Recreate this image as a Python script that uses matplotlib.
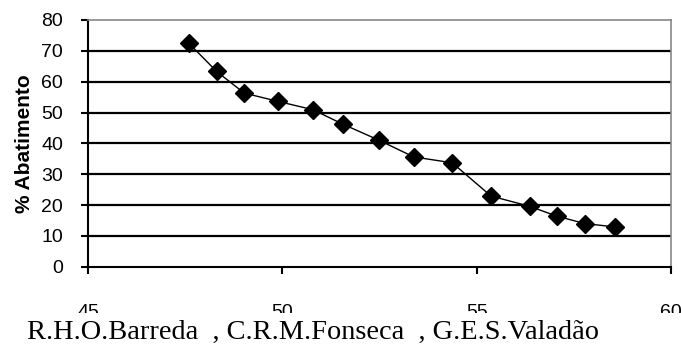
import matplotlib
matplotlib.use("Agg")
import matplotlib.pyplot as plt
from matplotlib.patches import Rectangle

x_vals = [47.6, 48.31, 49.02, 49.89, 50.79, 51.56, 52.49, 53.38, 54.37, 55.37, 56.36, 57.06, 57.78, 58.55]
y_vals = [72.4, 63.3, 56.3, 53.6, 50.9, 46.2, 41.0, 35.6, 33.7, 22.9, 19.6, 16.4, 14.0, 12.9]
x_ticks = [45, 50, 55, 60]
y_ticks = [0, 10, 20, 30, 40, 50, 60, 70, 80]
y_label = "% Abatimento"
caption = "R.H.O.Barreda  , C.R.M.Fonseca  , G.E.S.Valadão"

plt.rcParams['font.family'] = ['Liberation Sans', 'DejaVu Sans']

fig = plt.figure(figsize=(6.81, 3.45), dpi=100)
ax = fig.add_axes([88/681, 1-266.7/345, (671-88)/681, (266.7-20)/345])

for yt in y_ticks[1:-1]:
    ax.axhline(yt, color='black', lw=1.6, zorder=1)

ax.plot(x_vals, y_vals, color='black', lw=1.0, marker='D', markersize=9.5,
        markerfacecolor='black', markeredgecolor='black', zorder=3)

ax.set_xlim(45, 60)
ax.set_ylim(0, 80)
ax.set_xticks(x_ticks)
ax.set_yticks(y_ticks)
ax.tick_params(axis='both', labelsize=14, direction='out', length=5, width=1.5, color='black')
ax.tick_params(axis='x', pad=22)
ax.tick_params(axis='y', pad=13)
ax.spines['left'].set_color('black')
ax.spines['left'].set_linewidth(1.5)
ax.spines['bottom'].set_color('black')
ax.spines['bottom'].set_linewidth(1.5)
ax.spines['top'].set_color('#888888')
ax.spines['right'].set_color('#888888')
ax.spines['top'].set_linewidth(1.2)
ax.spines['right'].set_linewidth(1.2)
ax.set_ylabel(y_label, fontsize=15, fontweight='bold')
ax.yaxis.set_label_coords((34-88)/583, (266.7-144)/246.7)

# white strip that covers the lower half of the x tick labels
fig.patches.append(Rectangle((0, 0), 1, (345-313)/345, transform=fig.transFigure,
                             facecolor='white', edgecolor='none', zorder=10))
fig.text(27/681, 1-338.5/345, caption, fontsize=20.4, family='Liberation Serif',
         va='baseline', ha='left', zorder=11)

fig.savefig("out.png", dpi=100)
